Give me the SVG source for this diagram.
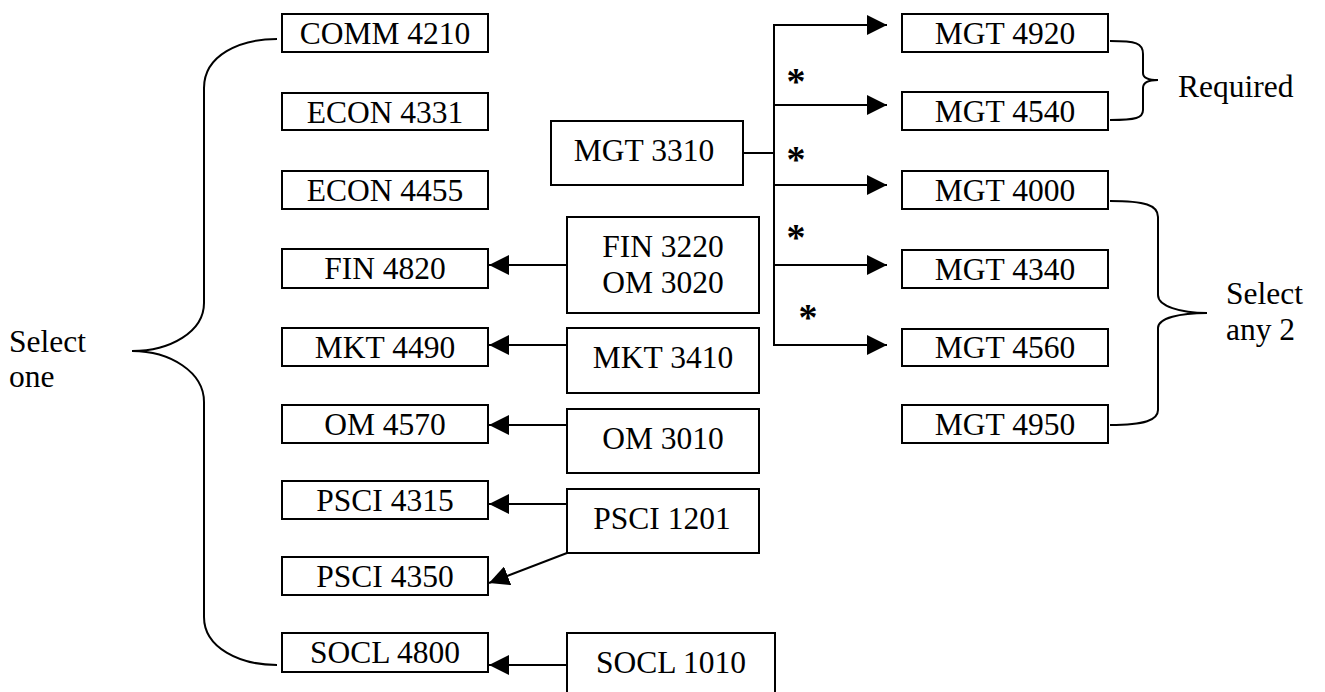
<svg xmlns="http://www.w3.org/2000/svg" width="1325" height="692" viewBox="0 0 1325 692">
<style>
.box{fill:#fff;stroke:#000;stroke-width:2}
.t{font-family:"Liberation Serif","Times New Roman",serif;font-size:31.5px;fill:#000;text-anchor:middle}
.l{font-family:"Liberation Serif","Times New Roman",serif;font-size:31.5px;fill:#000}
.ast{font-family:"Liberation Serif","Times New Roman",serif;font-size:38px;font-weight:bold;fill:#000;text-anchor:middle}
.c{fill:none;stroke:#000;stroke-width:2}
.br{fill:none;stroke:#000;stroke-width:2}
</style>
<defs>
<marker id="ah" viewBox="0 0 20 20" refX="20" refY="10" markerWidth="20" markerHeight="20" markerUnits="userSpaceOnUse" orient="auto">
<path d="M0,0 L20,10 L0,20 z" fill="#000"/>
</marker>
</defs>
<rect width="1325" height="692" fill="#fff"/>
<g id="connectors">
<line class="c" x1="567" y1="265" x2="489" y2="265" marker-end="url(#ah)"/>
<line class="c" x1="567" y1="345" x2="489" y2="345" marker-end="url(#ah)"/>
<line class="c" x1="567" y1="425" x2="489" y2="425" marker-end="url(#ah)"/>
<line class="c" x1="567" y1="504" x2="489" y2="504" marker-end="url(#ah)"/>
<line class="c" x1="567" y1="553" x2="489" y2="583" marker-end="url(#ah)"/>
<line class="c" x1="567" y1="665" x2="489" y2="665" marker-end="url(#ah)"/>
<line class="c" x1="743" y1="153" x2="774" y2="153"/>
<line class="c" x1="774" y1="24" x2="774" y2="346"/>
<line class="c" x1="773" y1="25" x2="887" y2="25" marker-end="url(#ah)"/>
<line class="c" x1="774" y1="105" x2="887" y2="105" marker-end="url(#ah)"/>
<line class="c" x1="774" y1="185" x2="887" y2="185" marker-end="url(#ah)"/>
<line class="c" x1="774" y1="265" x2="887" y2="265" marker-end="url(#ah)"/>
<line class="c" x1="773" y1="345" x2="887" y2="345" marker-end="url(#ah)"/>
<text class="ast" x="796" y="94">*</text>
<text class="ast" x="796" y="172">*</text>
<text class="ast" x="796" y="250">*</text>
<text class="ast" x="808" y="330">*</text>
</g>
<g id="braces">
<path class="br" d="M277,39 C240,39 204,55 204,88 L204,303 C204,332 170,351 132,351 C170,351 204,372 204,402 L204,617 C204,648 240,665 277,665"/>
<path class="br" d="M1110,41 C1136,41 1143,43 1143,54 L1143,73 C1143,78 1150,80 1158,80 C1150,80 1143,82 1143,88 L1143,110 C1143,118 1136,120 1110,120"/>
<path class="br" d="M1110,201 C1145,201 1158,205 1158,217 L1158,295 C1158,306 1180,313 1207,313 C1180,313 1158,318 1158,328 L1158,410 C1158,420 1145,425 1110,425"/>
</g>
<g id="label-select-one"><text class="l" x="9" y="352">Select</text><text class="l" x="9" y="387">one</text></g>
<g id="label-required"><text class="l" x="1178" y="97">Required</text></g>
<g id="label-select-any2"><text class="l" x="1226" y="304">Select</text><text class="l" x="1226" y="340">any 2</text></g>
<g id="comm4210"><rect class="box" x="282" y="14" width="206" height="38"/><text class="t" x="385" y="44">COMM 4210</text></g>
<g id="econ4331"><rect class="box" x="282" y="93" width="206" height="37"/><text class="t" x="385" y="122.5">ECON 4331</text></g>
<g id="econ4455"><rect class="box" x="282" y="171" width="206" height="38"/><text class="t" x="385" y="201">ECON 4455</text></g>
<g id="fin4820"><rect class="box" x="282" y="249" width="206" height="39"/><text class="t" x="385" y="279">FIN 4820</text></g>
<g id="mkt4490"><rect class="box" x="282" y="328" width="206" height="38"/><text class="t" x="385" y="358">MKT 4490</text></g>
<g id="om4570"><rect class="box" x="282" y="405" width="206" height="38"/><text class="t" x="385" y="435">OM 4570</text></g>
<g id="psci4315"><rect class="box" x="282" y="481" width="206" height="38"/><text class="t" x="385" y="511">PSCI 4315</text></g>
<g id="psci4350"><rect class="box" x="282" y="557" width="206" height="38"/><text class="t" x="385" y="587">PSCI 4350</text></g>
<g id="socl4800"><rect class="box" x="282" y="633" width="206" height="39"/><text class="t" x="385" y="663">SOCL 4800</text></g>
<g id="mgt3310"><rect class="box" x="551" y="121" width="192" height="64"/><text class="t" x="644" y="161">MGT 3310</text></g>
<g id="fin3220-om3020"><rect class="box" x="567" y="217" width="192" height="96"/><text class="t" x="663" y="257">FIN 3220</text><text class="t" x="663" y="293">OM 3020</text></g>
<g id="mkt3410"><rect class="box" x="567" y="328" width="192" height="65"/><text class="t" x="663" y="368">MKT 3410</text></g>
<g id="om3010"><rect class="box" x="567" y="409" width="192" height="64"/><text class="t" x="663" y="449">OM 3010</text></g>
<g id="psci1201"><rect class="box" x="567" y="489" width="192" height="64"/><text class="t" x="662" y="529">PSCI 1201</text></g>
<g id="socl1010"><rect class="box" x="567" y="633" width="208" height="72"/><text class="t" x="671" y="673">SOCL 1010</text></g>
<g id="mgt4920"><rect class="box" x="902" y="14" width="206" height="38"/><text class="t" x="1005" y="44">MGT 4920</text></g>
<g id="mgt4540"><rect class="box" x="902" y="92" width="206" height="38"/><text class="t" x="1005" y="122">MGT 4540</text></g>
<g id="mgt4000"><rect class="box" x="902" y="171" width="206" height="38"/><text class="t" x="1005" y="201">MGT 4000</text></g>
<g id="mgt4340"><rect class="box" x="902" y="250" width="206" height="38"/><text class="t" x="1005" y="280">MGT 4340</text></g>
<g id="mgt4560"><rect class="box" x="902" y="329" width="206" height="37"/><text class="t" x="1005" y="358">MGT 4560</text></g>
<g id="mgt4950"><rect class="box" x="902" y="405" width="206" height="38"/><text class="t" x="1005" y="435">MGT 4950</text></g>
</svg>
